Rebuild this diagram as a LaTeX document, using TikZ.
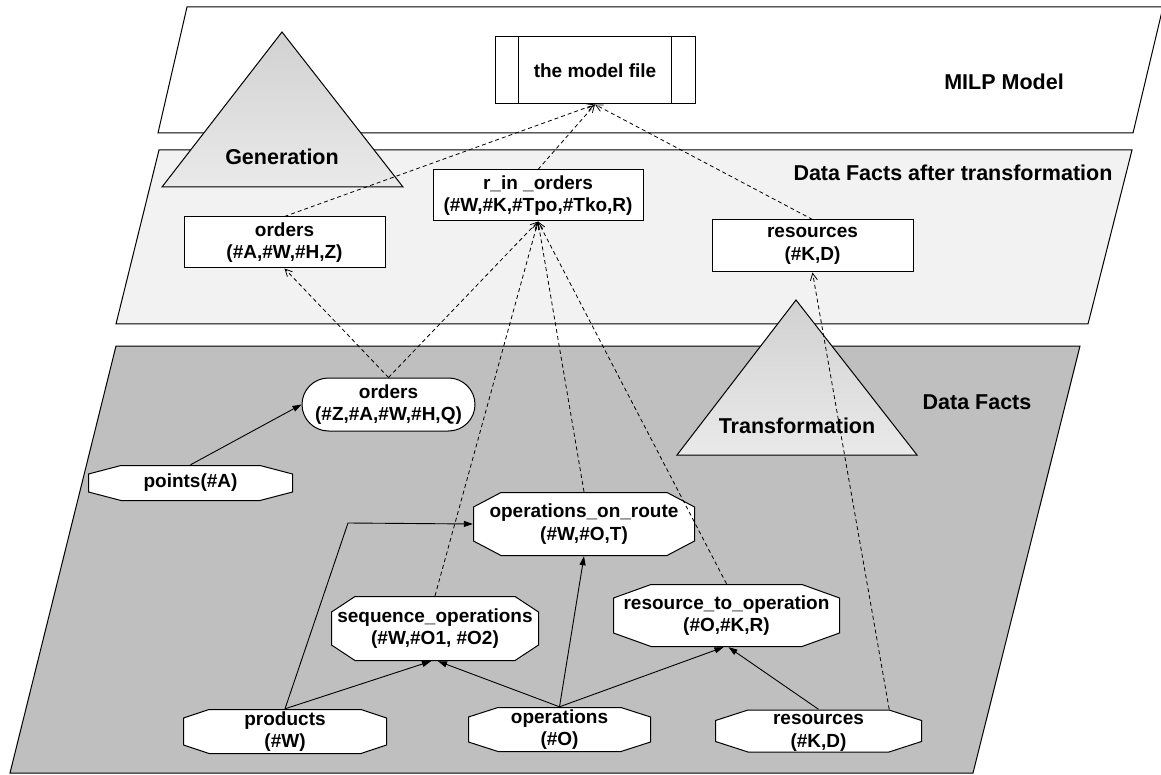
\documentclass[tikz,border=0pt]{standalone}
\usepackage{fontspec}
\setmainfont{Liberation Sans}
\usetikzlibrary{arrows.meta,shapes.misc}
\tikzset{
  band/.style={draw,line width=1pt},
  tri/.style={draw,line width=1pt,top color=gray!36,bottom color=gray!17},
  lbl/.style={font=\fontsize{21.5}{25}\selectfont\bfseries},
  fact/.style={font=\fontsize{19}{22.8}\selectfont\bfseries,align=center,inner sep=0pt},
  box/.style={fact,draw,fill=white,line width=1pt,minimum width=#1,minimum height=51pt},
  octa/.style n args={4}{fact,minimum width=#1,minimum height=#2,
    path picture={
      \filldraw[fill=white,line width=1pt]
        ([xshift=#3,yshift=-0.5pt]path picture bounding box.north west)
        -- ([xshift=-#3,yshift=-0.5pt]path picture bounding box.north east)
        -- ([xshift=-0.5pt,yshift=-#4]path picture bounding box.north east)
        -- ([xshift=-0.5pt,yshift=#4]path picture bounding box.south east)
        -- ([xshift=-#3,yshift=0.5pt]path picture bounding box.south east)
        -- ([xshift=#3,yshift=0.5pt]path picture bounding box.south west)
        -- ([xshift=0.5pt,yshift=#4]path picture bounding box.south west)
        -- ([xshift=0.5pt,yshift=-#4]path picture bounding box.north west)
        -- cycle;
    }},
  dep/.style={line width=0.8pt,dash pattern=on 4pt off 3pt,-{Straight Barb[length=7pt,width=7pt]}},
  use/.style={line width=0.9pt,-{Triangle[length=9pt,width=6pt]}}
}

\begin{document}
\begin{tikzpicture}[x=1pt,y=-1pt]
    \useasboundingbox[fill=white] (0,0) rectangle (1161,775);

    \draw[band,fill=white] (187,7) -- (1163,7) -- (1133,133) -- (158,133) -- cycle;
    \draw[band,fill=gray!10] (159,150) -- (1132,150) -- (1088,324) -- (116,324) -- cycle;
    \draw[band,fill=gray!50] (116,346) -- (1080,346) -- (973,773) -- (10,773) -- cycle;

    \draw[tri] (282,32) -- (403,187) -- (162,187) -- cycle;
    \draw[tri] (796,300) -- (917,455) -- (677,455) -- cycle;

    \node[lbl] (milp) at (1004,82) {MILP Model};
    \node[lbl] (after) at (953,173) {Data Facts after transformation};
    \node[lbl] (facts) at (977,402) {Data Facts};
    \node[lbl] (gen) at (282,157) {Generation};
    \node[lbl] (trans) at (797,426) {Transformation};

    \node[box=200pt,minimum height=67pt] (model) at (595,70.5) {the model file};
    \draw[line width=1pt] ([xshift=24pt]model.north west) -- ([xshift=24pt]model.south west);
    \draw[line width=1pt] ([xshift=-24pt]model.north east) -- ([xshift=-24pt]model.south east);

    \node[box=201pt] (ordT) at (284.5,242.5) {orders\\(\#A,\#W,\#H,Z)};
    \node[box=210pt] (rin) at (538,195.5) {r\_in \_orders\\(\#W,\#K,\#Tpo,\#Tko,R)};
    \node[box=201pt,minimum height=52pt] (resT) at (812.5,246) {resources\\(\#K,D)};

    \node[fact,rounded rectangle,draw,fill=white,line width=1pt,minimum width=173pt,minimum height=53pt]
        (ord) at (388.5,404.5) {orders\\(\#Z,\#A,\#W,\#H,Q)};
    \node[octa={205pt}{36pt}{33pt}{9pt}] (pts) at (190.5,483) {points(\#A)};
    \node[octa={222pt}{64pt}{28pt}{15pt}] (route) at (584,524) {operations\_on\_route\\(\#W,\#O,T)};
    \node[octa={208pt}{65pt}{24pt}{16pt}] (seq) at (435,628.5) {sequence\_operations\\(\#W,\#O1, \#O2)};
    \node[octa={227pt}{63pt}{38pt}{14pt}] (r2o) at (726.5,615.5) {resource\_to\_operation\\(\#O,\#K,R)};
    \node[octa={204pt}{45pt}{26pt}{9pt}] (prod) at (285,731.5) {products\\(\#W)};
    \node[octa={183pt}{45pt}{30pt}{10pt}] (ops) at (559.5,729.5) {operations\\(\#O)};
    \node[octa={207pt}{43pt}{33pt}{11pt}] (res) at (818.5,731) {\vphantom{(}resources\\(\#K,D)};

    \foreach \n in {ordT,rin,resT}
        \draw[dep] (\n.north) -- (model.south);
    \foreach \n in {ord,seq,route,r2o}
        \draw[dep] (\n.north) -- (rin.south);
    \draw[dep] (ord.north) -- (ordT.south);
    \draw[dep] ([xshift=-33pt]res.north east) -- (resT.south);

    \coordinate (kink) at (348,523);
    \draw[use] (pts.north) -- (ord.west);
    \draw[use] (prod.north) -- (kink) -- (route.west);
    \draw[use] (prod.north) -- ([xshift=-4pt]seq.south);
    \draw[use] (ops.north) -- ([xshift=3pt]seq.south);
    \draw[use] (ops.north) -- (route.south);
    \draw[use] (ops.north) -- ([xshift=-3pt]r2o.south);
    \draw[use] (res.north) -- ([xshift=2pt]r2o.south);
\end{tikzpicture}
\end{document}
